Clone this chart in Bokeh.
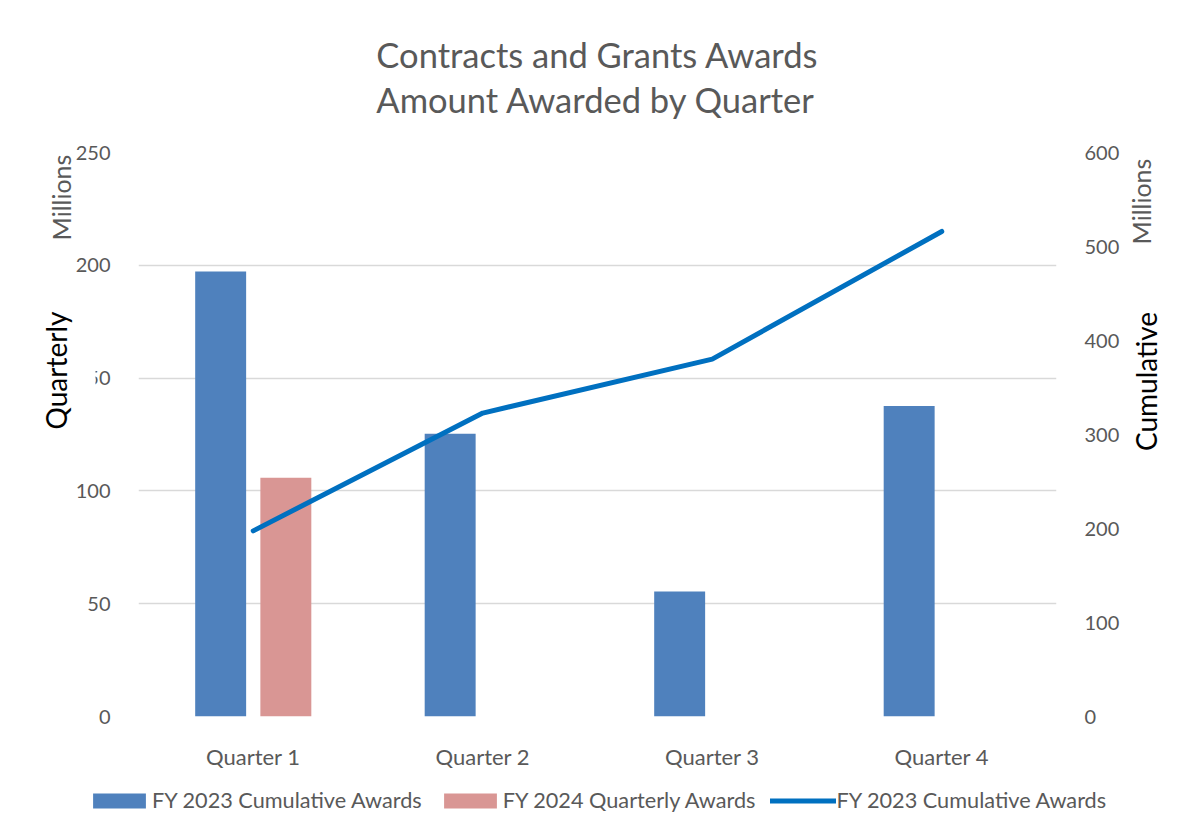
import math
from bokeh.plotting import figure
from bokeh.models import (Range1d, LinearAxis, FactorRange, Legend, Label,
                          LegendItem, FixedTicker, ColumnDataSource)
from bokeh.transform import dodge
from bokeh.embed import file_html
from bokeh.resources import INLINE

# ---- data ----
quarters = ["Quarter 1", "Quarter 2", "Quarter 3", "Quarter 4"]
fy2023_quarterly = [197.3, 125.3, 55.4, 137.6]          # millions
fy2024_quarters = ["Quarter 1"]
fy2024_quarterly = [105.8]                               # millions
fy2023_cumulative = [197.5, 322.8, 380.2, 516.0]         # millions
left_ticks = [0, 50, 100, 150, 200, 250]
right_ticks = [0, 100, 200, 300, 400, 500, 600]
title_lines = ["Contracts and Grants Awards", "Amount Awarded by Quarter"]
legend_labels = ["FY 2023 Cumulative Awards", "FY 2024 Quarterly Awards",
                 "FY 2023 Cumulative Awards"]

FONT = "Lato"
GRAY = "#595959"
BLUE_BAR = "#4F81BD"
PINK_BAR = "#D99694"
LINE_BLUE = "#0070C0"
W, H = 1186, 838

src23 = ColumnDataSource(dict(q=quarters, v=fy2023_quarterly))
src24 = ColumnDataSource(dict(q=fy2024_quarters, v=fy2024_quarterly))
srcc = ColumnDataSource(dict(q=quarters, v=fy2023_cumulative))

# ---------------- main chart ----------------
p = figure(width=W, height=H, output_backend="svg", toolbar_location=None,
           x_range=FactorRange(factors=quarters, range_padding=0),
           y_range=Range1d(0, 250),
           min_border_left=138, min_border_right=130,
           min_border_top=151, min_border_bottom=122)
p.outline_line_color = None
p.extra_y_ranges = {"cum": Range1d(0, 600)}

b23 = p.vbar(x=dodge("q", -0.142, range=p.x_range), top="v", width=0.222,
             source=src23, fill_color=BLUE_BAR, line_color=None)
b24 = p.vbar(x=dodge("q", 0.142, range=p.x_range), top="v", width=0.222,
             source=src24, fill_color=PINK_BAR, line_color=None)
ln = p.line(x="q", y="v", source=srcc, y_range_name="cum",
            line_color=LINE_BLUE, line_width=5, line_cap="round")

p.xgrid.grid_line_color = None
p.ygrid.grid_line_color = "#D9D9D9"
p.ygrid.grid_line_width = 1.5


def style_axis(ax):
    ax.axis_line_color = None
    ax.major_tick_line_color = None
    ax.minor_tick_line_color = None
    ax.major_label_text_color = GRAY
    ax.major_label_text_font = FONT
    ax.major_label_text_font_size = "20px"


p.yaxis.ticker = FixedTicker(ticks=left_ticks)
style_axis(p.yaxis[0])
p.yaxis.major_label_standoff = 22

rax = LinearAxis(y_range_name="cum", ticker=FixedTicker(ticks=right_ticks))
style_axis(rax)
rax.major_label_standoff = 22
p.add_layout(rax, "right")

style_axis(p.xaxis[0])
p.xaxis.major_label_text_font_size = "22px"
p.xaxis.major_label_standoff = 20

p.title.text = "\n".join(title_lines)
p.title.align = "center"
p.title.text_font = FONT
p.title.text_font_size = "34.5px"
p.title.text_font_style = "normal"
p.title.text_color = GRAY
p.title.text_line_height = 1.1
p.title.standoff = 64

# ---------------- transparent overlay for captions and legend ----------------
ov = figure(width=W, height=H, output_backend="svg", toolbar_location=None,
            x_range=Range1d(0, 1), y_range=Range1d(0, 1),
            x_axis_location=None, y_axis_location=None, min_border=0,
            styles={"position": "absolute", "left": "0px", "top": "0px"})
ov.title.visible = False
ov.outline_line_color = None
ov.grid.visible = False
ov.background_fill_alpha = 0
ov.border_fill_alpha = 0


def caption(x, y, text, size, color, **kw):
    ov.add_layout(Label(x=x, y=H - y, x_units="screen", y_units="screen",
                        text=text, angle=math.pi / 2, text_align="center",
                        text_baseline="middle", text_font=FONT,
                        text_font_size=size, text_color=color, **kw))


caption(60, 197, "Millions", "25px", GRAY)
caption(55, 370, "Quarterly", "28px", "black",
        background_fill_color="white", padding=23)
caption(1140, 201, "Millions", "25px", GRAY)
caption(1145, 381, "Cumulative", "28px", "black")

# legend swatch proxies (zero-size, invisible on their own)
e1 = ov.vbar(x=[0], top=[0], width=0, fill_color=BLUE_BAR, line_color=None)
e2 = ov.vbar(x=[0], top=[0], width=0, fill_color=PINK_BAR, line_color=None)
e3 = ov.line(x=[0], y=[0], line_color=LINE_BLUE, line_width=5, line_cap="round")

legend = Legend(items=[LegendItem(label=legend_labels[0], renderers=[e1]),
                       LegendItem(label=legend_labels[1], renderers=[e2]),
                       LegendItem(label=legend_labels[2], renderers=[e3])],
                orientation="horizontal", location=(86, H - 813),
                glyph_width=66, glyph_height=19, label_standoff=0, spacing=15,
                padding=0, margin=0, border_line_color=None,
                background_fill_alpha=0, label_text_font=FONT,
                label_text_font_size="21.7px", label_text_color=GRAY)
ov.add_layout(legend, "center")

open("out.html", "w").write(file_html([p, ov], INLINE))
